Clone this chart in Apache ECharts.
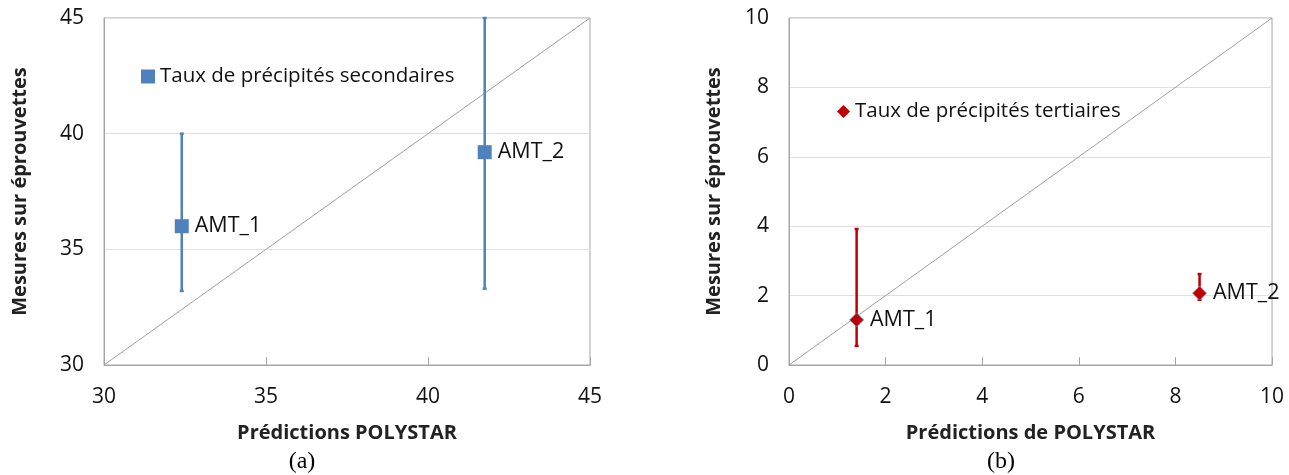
<!DOCTYPE html>
<html><head><meta charset="utf-8">
<script src="https://cdn.jsdelivr.net/npm/echarts@6/dist/echarts.min.js"></script>
<style>html,body{margin:0;padding:0;background:#fff}#c{width:1289px;height:475px}</style>
</head><body><div id="c"></div>
<script>
// Panel (a)
const labelsA = ['AMT_1', 'AMT_2'];
const predA = [32.4, 41.75];
const measA = [36.0, 39.2];
const lowA = [33.2, 33.3];
const highA = [40.0, 45.0];
const ticksA = [30, 35, 40, 45];
// Panel (b)
const labelsB = ['AMT_1', 'AMT_2'];
const predB = [1.4, 8.5];
const measB = [1.3, 2.07];
const lowB = [0.55, 1.88];
const highB = [3.92, 2.62];
const ticksB = [0, 2, 4, 6, 8, 10];

const FONT = 'Open Sans';
const blue = '#4f81bd', red = '#c00000';
const TXT = '#111';

function errSeries(idx, xs, lo, hi, color) {
  return {
    type: 'custom', xAxisIndex: idx, yAxisIndex: idx, silent: true, z: 3,
    data: xs.map((x, i) => [x, lo[i], hi[i]]),
    renderItem: function (params, api) {
      const p1 = api.coord([api.value(0), api.value(1)]);
      const p2 = api.coord([api.value(0), api.value(2)]);
      const st = { stroke: color, lineWidth: 2.5 };
      return { type: 'group', children: [
        { type: 'line', shape: { x1: p1[0], y1: p1[1], x2: p2[0], y2: p2[1] }, style: st },
        { type: 'line', shape: { x1: p1[0]-2, y1: p1[1], x2: p1[0]+2, y2: p1[1] }, style: st },
        { type: 'line', shape: { x1: p2[0]-2, y1: p2[1], x2: p2[0]+2, y2: p2[1] }, style: st }
      ]};
    }
  };
}

function axisBase(min, max, interval, name, gap, isY) {
  return {
    type: 'value', min: min, max: max, interval: interval,
    name: name, nameLocation: 'middle', nameGap: gap,
    nameTextStyle: { fontFamily: FONT, fontWeight: 'bold', fontSize: 20, color: '#222' },
    axisLine: { show: true, lineStyle: { color: '#a6a6a6', width: 1 } },
    axisTick: { show: !isY, inside: true, length: 8, lineStyle: { color: '#a6a6a6' } },
    axisLabel: { fontFamily: FONT, fontSize: 21, color: TXT, margin: isY ? 20 : 22 },
    splitLine: { show: isY, lineStyle: { color: '#e0e0e0', width: 1 } }
  };
}

const chart = echarts.init(document.getElementById('c'), null, { renderer: 'canvas' });
chart.setOption({
  animation: false,
  backgroundColor: '#fff',
  grid: [
    { left: 104, top: 18, width: 486, height: 347, show: true, borderColor: '#a6a6a6', borderWidth: 1 },
    { left: 789, top: 18, width: 483, height: 347, show: true, borderColor: '#a6a6a6', borderWidth: 1 }
  ],
  xAxis: [
    Object.assign(axisBase(ticksA[0], ticksA[ticksA.length-1], 5, 'Prédictions POLYSTAR', 58, false), { gridIndex: 0 }),
    Object.assign(axisBase(ticksB[0], ticksB[ticksB.length-1], 2, 'Prédictions de POLYSTAR', 58, false), { gridIndex: 1 })
  ],
  yAxis: [
    Object.assign(axisBase(ticksA[0], ticksA[ticksA.length-1], 5, 'Mesures sur éprouvettes', 74, true), { gridIndex: 0 }),
    Object.assign(axisBase(ticksB[0], ticksB[ticksB.length-1], 2, 'Mesures sur éprouvettes', 65, true), { gridIndex: 1 })
  ],
  legend: [
    { data: [{ name: 'Taux de précipités secondaires', itemStyle: { opacity: 1 } }], left: 136, top: 61, itemWidth: 14, itemHeight: 14, itemGap: 6,
      textStyle: { fontFamily: FONT, fontSize: 20.5, color: TXT }, selectedMode: false },
    { data: [{ name: 'Taux de précipités tertiaires', icon: 'path://M0,5L5,0L10,5L5,10Z', itemStyle: { borderWidth: 0, opacity: 1 } }], left: 832, top: 96, itemWidth: 13, itemHeight: 13,
      textStyle: { fontFamily: FONT, fontSize: 20.5, color: TXT }, selectedMode: false }
  ],
  series: [
    { type: 'line', xAxisIndex: 0, yAxisIndex: 0, silent: true, symbol: 'none', z: 1,
      data: [[ticksA[0], ticksA[0]], [ticksA[ticksA.length-1], ticksA[ticksA.length-1]]],
      lineStyle: { color: '#a0a0a0', width: 1 } },
    { type: 'line', xAxisIndex: 1, yAxisIndex: 1, silent: true, symbol: 'none', z: 1,
      data: [[ticksB[0], ticksB[0]], [ticksB[ticksB.length-1], ticksB[ticksB.length-1]]],
      lineStyle: { color: '#a0a0a0', width: 1 } },
    errSeries(0, predA, lowA, highA, blue),
    errSeries(1, predB, lowB, highB, red),
    { name: 'Taux de précipités secondaires', type: 'scatter', xAxisIndex: 0, yAxisIndex: 0, z: 5,
      symbol: 'rect', symbolSize: 14, itemStyle: { color: blue, opacity: 1 },
      data: predA.map((x, i) => ({ value: [x, measA[i]], name: labelsA[i] })),
      label: { show: true, position: 'right', distance: 6, formatter: '{b}', fontFamily: FONT, fontSize: 21.5, color: TXT } },
    { name: 'Taux de précipités tertiaires', type: 'scatter', xAxisIndex: 1, yAxisIndex: 1, z: 5,
      symbol: 'path://M0,5L5,0L10,5L5,10Z', symbolSize: 14, itemStyle: { color: red, borderColor: '#6f8fc8', borderWidth: 0.8, opacity: 1 },
      data: predB.map((x, i) => ({ value: [x, measB[i]], name: labelsB[i] })),
      label: { show: true, position: 'right', distance: 6, formatter: '{b}', fontFamily: FONT, fontSize: 21.5, color: TXT } }
  ],
  graphic: [
    { type: 'text', style: { text: '(a)', font: '24px "Liberation Serif"', fill: '#000', x: 302, y: 462, textAlign: 'center', textVerticalAlign: 'middle' } },
    { type: 'text', style: { text: '(b)', font: '24px "Liberation Serif"', fill: '#000', x: 1001, y: 462, textAlign: 'center', textVerticalAlign: 'middle' } }
  ]
});
</script></body></html>
